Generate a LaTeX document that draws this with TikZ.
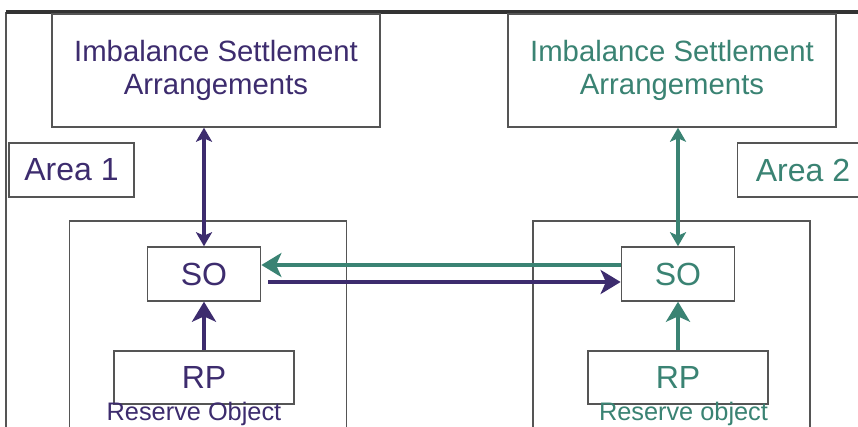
\documentclass[tikz,border=0pt]{standalone}
\usepackage{fontspec}
\setmainfont{Liberation Sans}
\usepackage{xcolor}
\usetikzlibrary{arrows.meta}
\usetikzlibrary{calc}

\definecolor{areaone}{HTML}{3D2C6E}
\definecolor{areatwo}{HTML}{3A8373}
\definecolor{boxline}{HTML}{555555}

\tikzset{
  box/.style={draw=boxline, line width=1.1pt, inner sep=0pt, align=center},
  isabox/.style={box, minimum width=246pt, minimum height=84.75pt, font=\fontsize{22}{25}\selectfont},
  areabox/.style={box, minimum height=40.5pt, font=\fontsize{24}{28}\selectfont},
  sobox/.style={box, minimum width=85pt, minimum height=40.5pt, font=\fontsize{24}{28}\selectfont},
  rpbox/.style={box, minimum width=135pt, minimum height=39.75pt, font=\fontsize{24}{28}\selectfont},
  resbox/.style={box, minimum width=207.5pt, minimum height=163.5pt},
  reslabel/.style={inner sep=0pt, anchor=base, font=\fontsize{19}{22}\selectfont},
  flow/.style={line width=3pt},
  bighead/.style={-{Stealth[length=15pt,width=18pt,inset=4pt]}},
  smallheads/.style={{Stealth[length=10.5pt,width=12pt,inset=2.5pt]}-{Stealth[length=10.5pt,width=12pt,inset=2.5pt]}},
}

\begin{document}
\begin{tikzpicture}[x=0.75pt,y=-0.75pt]
  \useasboundingbox (0,0) rectangle (858,427);
  \fill[white] (0,0) rectangle (858,427);

  % frame of the page
  \draw[boxline, line width=1.1pt] (6,440) -- (6,12);
  \draw[black!80, line width=2.4pt] (5.5,12) -- (870,12);

  % reserve areas
  \node[resbox] (res1) at (208,330) {};
  \node[resbox] (res2) at (671.5,330) {};

  % area 1
  \node[isabox, text=areaone] (isa1) at (216,70.5) {Imbalance Settlement\\Arrangements};
  \node[areabox, minimum width=93.75pt, text=areaone] (area1) at (71.5,170) {Area 1};
  \node[sobox, text=areaone] (so1) at (204,274) {SO};
  \node[rpbox, text=areaone] (rp1) at (204,377.5) {RP};
  \node[reslabel, text=areaone] (obj1) at (194,421) {Reserve Object};

  % area 2
  \node[isabox, text=areatwo] (isa2) at (672,70.5) {Imbalance Settlement\\Arrangements};
  \node[areabox, minimum width=98.25pt, text=areatwo] (area2) at (803,170) {Area 2};
  \node[sobox, text=areatwo] (so2) at (678,274) {SO};
  \node[rpbox, text=areatwo] (rp2) at (678,377.5) {RP};
  \node[reslabel, text=areatwo] (obj2) at (683.5,421) {Reserve object};

  \draw[flow, smallheads, areaone] (so1.north |- isa1.south) -- (so1.north);
  \draw[flow, bighead, areaone] (rp1.north) -- (so1.south);
  \draw[flow, smallheads, areatwo] (so2.north |- isa2.south) -- (so2.north);
  \draw[flow, bighead, areatwo] (rp2.north) -- (so2.south);

  \draw[flow, bighead, areatwo] ([yshift=6.75pt]so2.west) -- ([yshift=6.75pt]so1.east);
  \draw[flow, bighead, areaone] ([xshift=5pt,yshift=-6pt]so1.east) -- ([yshift=-6pt]so2.west);
\end{tikzpicture}
\end{document}
